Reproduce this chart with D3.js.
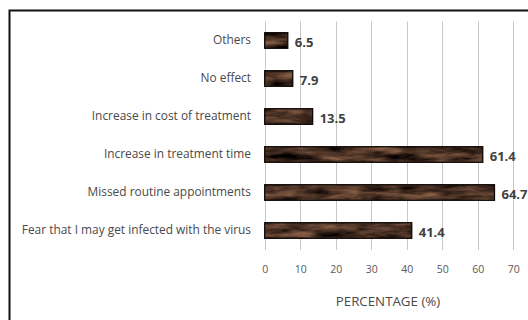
<!DOCTYPE html>
<html>
<head>
<meta charset="utf-8">
<script src="https://cdn.jsdelivr.net/npm/d3@7"></script>
<style>
  html, body { margin: 0; padding: 0; background: #fff; }
  svg { display: block; }
</style>
</head>
<body>
<svg id="chart" width="528" height="320"></svg>
<script>
// Reasons reported, listed top to bottom
const categories = [
  "Others",
  "No effect",
  "Increase in cost of treatment",
  "Increase in treatment time",
  "Missed routine appointments",
  "Fear that I may get infected with the virus"
];
const percentages = [6.5, 7.9, 13.5, 61.4, 64.7, 41.4];
const tickValues = [0, 10, 20, 30, 40, 50, 60, 70];
const axisTitle = "PERCENTAGE (%)";

const svg = d3.select("#chart");
const font = "'Open Sans', Lato, sans-serif";

// Outer chart frame (continues past the right and bottom edges)
svg.append("rect")
  .attr("x", 9.5).attr("y", 10.5)
  .attr("width", 600).attr("height", 400)
  .attr("fill", "none")
  .attr("stroke", "#111")
  .attr("stroke-width", 2);

// Brown wood-like texture for the bars
const defs = svg.append("defs");
const filt = defs.append("filter")
  .attr("id", "wood")
  .attr("x", 0).attr("y", 0).attr("width", 1).attr("height", 1)
  .attr("color-interpolation-filters", "sRGB");
filt.append("feTurbulence")
  .attr("type", "fractalNoise")
  .attr("baseFrequency", "0.03 0.13")
  .attr("numOctaves", 4)
  .attr("seed", 11)
  .attr("result", "noise");
filt.append("feColorMatrix")
  .attr("in", "noise")
  .attr("type", "matrix")
  .attr("values",
    "0.85 0 0 0 -0.14 " +
    "0.62 0 0 0 -0.12 " +
    "0.46 0 0 0 -0.09 " +
    "0 0 0 0 1")
  .attr("result", "tint");
filt.append("feComposite")
  .attr("in", "tint").attr("in2", "SourceGraphic")
  .attr("operator", "in");

const x = d3.scaleLinear().domain([0, 70]).range([264.7, 513.3]);
const y = d3.scaleBand().domain(categories)
  .range([21.5, 249.5])
  .paddingInner(0.59)
  .paddingOuter(0.295);

// Vertical gridlines
svg.append("g")
  .selectAll("line")
  .data(tickValues)
  .join("line")
  .attr("x1", d => Math.round(x(d)) + 0.5)
  .attr("x2", d => Math.round(x(d)) + 0.5)
  .attr("y1", 21.5).attr("y2", 250)
  .attr("stroke", "#c8c8c8")
  .attr("stroke-width", 1);

// Bottom axis tick labels
const xAxis = d3.axisBottom(x).tickValues(tickValues).tickSize(0).tickPadding(0);
const gx = svg.append("g").attr("transform", "translate(0,266)").call(xAxis);
gx.select(".domain").remove();
gx.selectAll("text")
  .attr("font-family", font)
  .attr("font-size", 10.5)
  .attr("fill", "#595959")
  .attr("dy", "0.71em");

// Category labels
const yAxis = d3.axisLeft(y).tickSize(0).tickPadding(0);
const gy = svg.append("g").attr("transform", "translate(251,0)").call(yAxis);
gy.select(".domain").remove();
gy.selectAll("text")
  .attr("font-family", font)
  .attr("font-size", 11.9)
  .attr("fill", "#4a4a4a");

// Bars: textured fill plus a dark outline
const bars = svg.append("g");
bars.selectAll("rect.fill")
  .data(percentages)
  .join("rect")
  .attr("class", "fill")
  .attr("x", x(0))
  .attr("y", (d, i) => y(categories[i]))
  .attr("width", d => x(d) - x(0))
  .attr("height", y.bandwidth())
  .attr("fill", "#000")
  .attr("filter", "url(#wood)");
bars.selectAll("rect.edge")
  .data(percentages)
  .join("rect")
  .attr("class", "edge")
  .attr("x", x(0))
  .attr("y", (d, i) => y(categories[i]))
  .attr("width", d => x(d) - x(0))
  .attr("height", y.bandwidth())
  .attr("fill", "none")
  .attr("stroke", "#0d0805")
  .attr("stroke-width", 1.3);

// Value labels
svg.append("g")
  .selectAll("text")
  .data(percentages)
  .join("text")
  .attr("x", d => x(d) + 7)
  .attr("y", (d, i) => y(categories[i]) + y.bandwidth() / 2 + 2)
  .attr("dy", "0.35em")
  .attr("font-family", font)
  .attr("font-size", 13)
  .attr("font-weight", "bold")
  .attr("fill", "#404040")
  .text(d => d.toFixed(1));

// Axis title
svg.append("text")
  .attr("x", 388)
  .attr("y", 301)
  .attr("dy", "0.35em")
  .attr("text-anchor", "middle")
  .attr("font-family", font)
  .attr("font-size", 13.3)
  .attr("fill", "#4a4a4a")
  .text(axisTitle);
</script>
</body>
</html>
